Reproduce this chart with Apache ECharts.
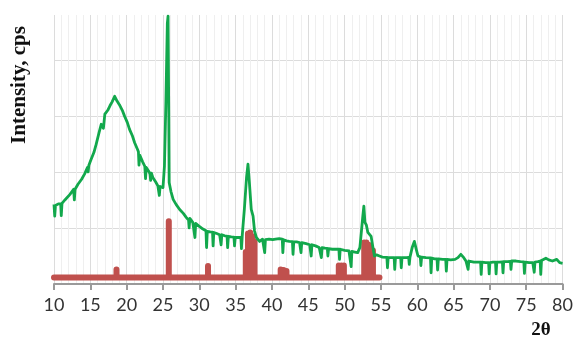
<!DOCTYPE html>
<html>
<head>
<meta charset="utf-8">
<script src="https://cdn.jsdelivr.net/npm/echarts@6/dist/echarts.min.js"></script>
<style>
  html, body { margin: 0; padding: 0; background: #fff; }
  #chart { width: 576px; height: 339px; }
</style>
</head>
<body>
<div id="chart"></div>
<script>
const scanPoints = [
  [10.0, 1420], [10.1, 1210], [10.2, 1400], [10.6, 1430], [10.92, 1430], [11.0, 1220], [11.1, 1440],
  [11.5, 1500], [12.2, 1600], [12.7, 1690], [12.8, 1500], [12.9, 1690], [13.3, 1780], [13.8, 1870],
  [14.2, 1960], [14.6, 2080], [14.7, 2000], [14.8, 2120], [15.1, 2220], [15.5, 2350], [15.8, 2490],
  [16.2, 2700], [16.5, 2850], [16.8, 2780], [17.0, 3030], [17.4, 3100], [17.7, 3180], [18.0, 3250],
  [18.35, 3350], [18.7, 3260], [19.0, 3200], [19.4, 3100], [19.7, 3000], [20.1, 2880], [20.4, 2760],
  [20.8, 2640], [21.1, 2520], [21.5, 2400], [21.62, 2360], [21.7, 2120], [21.8, 2300], [22.2, 2180],
  [22.5, 2100], [22.6, 1880], [22.7, 2080], [23.1, 2000], [23.22, 1960], [23.3, 1850], [23.4, 1980],
  [23.6, 1900], [24.0, 1820], [24.3, 1750], [24.42, 1730], [24.5, 1580], [24.6, 1740], [25.0, 1720],
  [25.2, 2100], [25.4, 3240], [25.6, 4650], [25.7, 4780], [25.8, 3000], [25.85, 1810], [26.1, 1650],
  [26.4, 1510], [26.8, 1420], [27.3, 1330], [27.8, 1260], [28.2, 1190], [28.52, 1140], [28.6, 1000],
  [28.7, 1170], [29.1, 1100], [29.32, 1090], [29.4, 830], [29.5, 1080], [30.0, 1030], [30.5, 980],
  [30.92, 950], [31.0, 650], [31.1, 940], [31.5, 930], [31.82, 925], [31.9, 680], [32.0, 920],
  [32.4, 900], [32.8, 880], [32.92, 880], [33.0, 700], [33.1, 880], [33.5, 860], [33.82, 855],
  [33.9, 650], [34.0, 850], [34.4, 840], [34.77, 835], [34.85, 680], [34.95, 830], [35.4, 830],
  [35.72, 830], [35.8, 630], [35.9, 850], [36.2, 1330], [36.5, 1900], [36.7, 2140], [36.9, 1800],
  [37.15, 1330], [37.4, 1210], [37.6, 950], [37.85, 830], [38.3, 760], [38.7, 800], [38.92, 800],
  [39.0, 560], [39.1, 790], [39.6, 800], [40.1, 790], [40.5, 800], [41.0, 810], [41.42, 800],
  [41.5, 560], [41.6, 790], [42.0, 770], [42.4, 760], [42.82, 755], [42.9, 530], [43.0, 750],
  [43.4, 750], [43.8, 740], [43.92, 740], [44.0, 560], [44.1, 740], [44.7, 720], [45.2, 700],
  [45.32, 700], [45.4, 500], [45.5, 700], [46.0, 680], [46.5, 650], [46.72, 650], [46.8, 470],
  [46.9, 650], [47.3, 640], [47.62, 635], [47.7, 500], [47.8, 630], [48.3, 620], [48.8, 620],
  [49.22, 620], [49.3, 440], [49.4, 620], [50.0, 600], [50.6, 590], [50.82, 585], [50.9, 310],
  [51.0, 580], [51.4, 570], [51.8, 560], [52.1, 650], [52.3, 920], [52.5, 1200], [52.65, 1390],
  [52.8, 1100], [53.0, 1050], [53.2, 920], [53.4, 950], [53.65, 850], [53.9, 650], [54.1, 500],
  [54.4, 520], [54.8, 500], [55.2, 480], [55.82, 475], [55.9, 290], [56.0, 470], [56.5, 470],
  [56.82, 470], [56.9, 260], [57.0, 470], [57.4, 470], [57.72, 470], [57.8, 290], [57.9, 470],
  [58.5, 470], [58.82, 475], [58.9, 350], [59.0, 480], [59.3, 650], [59.6, 760], [59.9, 600],
  [60.1, 500], [60.42, 485], [60.5, 330], [60.6, 480], [61.2, 470], [61.82, 465], [61.9, 200],
  [62.0, 460], [62.4, 450], [62.72, 450], [62.8, 250], [62.9, 450], [63.5, 440], [63.92, 440],
  [64.0, 230], [64.1, 440], [64.6, 430], [65.2, 440], [65.6, 470], [66.0, 530], [66.4, 470],
  [66.7, 410], [66.92, 410], [67.0, 260], [67.1, 410], [67.8, 390], [68.72, 390], [68.8, 170],
  [68.9, 390], [69.4, 380], [69.82, 380], [69.9, 180], [70.0, 380], [70.4, 390], [70.77, 390],
  [70.85, 180], [70.95, 390], [71.3, 390], [71.72, 395], [71.8, 200], [71.9, 400], [72.4, 400],
  [72.82, 405], [72.9, 260], [73.0, 410], [73.6, 410], [74.2, 400], [74.67, 395], [74.75, 190],
  [74.85, 390], [75.4, 380], [75.9, 380], [76.02, 385], [76.1, 210], [76.2, 390], [76.6, 400],
  [76.92, 410], [77.0, 170], [77.1, 420], [77.7, 460], [78.1, 430], [78.6, 410], [79.2, 440],
  [79.6, 380], [80.0, 370]
];

// reference pattern sticks
const refAngle = [18.6, 25.8, 31.2, 36.4, 36.7, 37.0, 37.3, 37.6, 41.2, 41.6, 42.0, 49.2, 49.55, 49.9,
  52.7, 53.0, 53.3, 53.6, 53.9];
const refCps = [260, 1120, 320, 570, 900, 920, 850, 760, 260, 250, 230, 330, 330, 330,
  740, 740, 700, 650, 600];
const refBase = 116;
const refStart = 10;
const refEnd = 54.8;

const xTicks = [10, 15, 20, 25, 30, 35, 40, 45, 50, 55, 60, 65, 70, 75, 80];

// stick pattern drawn as one thick polyline along the baseline
const refData = [[refStart, refBase]];
refAngle.forEach((a, i) => {
  refData.push([a, refBase], [a, refCps[i]], [a, refBase]);
});
refData.push([refEnd, refBase]);

const chart = echarts.init(document.getElementById("chart"), null, { renderer: "canvas" });

chart.setOption({
  animation: false,
  grid: { left: 54, right: 13, top: 15, bottom: 55 },
  xAxis: {
    type: "value",
    min: xTicks[0],
    max: xTicks[xTicks.length - 1],
    interval: 5,
    axisLine: { show: true, lineStyle: { color: "#9a9a9a", width: 2 } },
    axisTick: { show: true, length: 6, lineStyle: { color: "#9a9a9a", width: 2 } },
    axisLabel: {
      color: "#333",
      fontFamily: "Lato",
      fontSize: 18,
      margin: 12,
    },
    splitLine: { show: true, lineStyle: { color: "#dcdcdc", width: 1 } },
    minorTick: { show: false, splitNumber: 5 },
    minorSplitLine: { show: true, lineStyle: { color: "#efefef", width: 1 } },
  },
  yAxis: {
    type: "value",
    min: 0,
    max: 4800,
    interval: 1000,
    axisLine: { show: false },
    axisTick: { show: false },
    axisLabel: { show: false },
    splitLine: {
      show: true,
      lineStyle: {
        // no line at the top edge (max is not a multiple of the interval)
        color: ["#dcdcdc", "#dcdcdc", "#dcdcdc", "#dcdcdc", "#dcdcdc", "rgba(0,0,0,0)"],
        width: 1,
      },
    },
  },
  graphic: [
    {
      type: "text",
      x: 20,
      y: 85,
      rotation: Math.PI / 2,
      style: {
        text: "Intensity, cps",
        font: "bold 21px 'Liberation Serif'",
        fill: "#111",
        align: "center",
        verticalAlign: "middle",
      },
    },
    {
      type: "text",
      x: 541,
      y: 330,
      style: {
        text: "2θ",
        font: "bold 19px 'Liberation Serif'",
        fill: "#111",
        align: "center",
        verticalAlign: "middle",
      },
    },
  ],
  series: [
    {
      name: "reference",
      type: "line",
      data: refData,
      showSymbol: false,
      z: 2,
      lineStyle: { color: "#c0504d", width: 6, cap: "round", join: "round" },
    },
    {
      name: "scan",
      type: "line",
      data: scanPoints,
      showSymbol: false,
      z: 3,
      lineStyle: { color: "#12a84c", width: 2.8, join: "round" },
    },
  ],
});
</script>
</body>
</html>
